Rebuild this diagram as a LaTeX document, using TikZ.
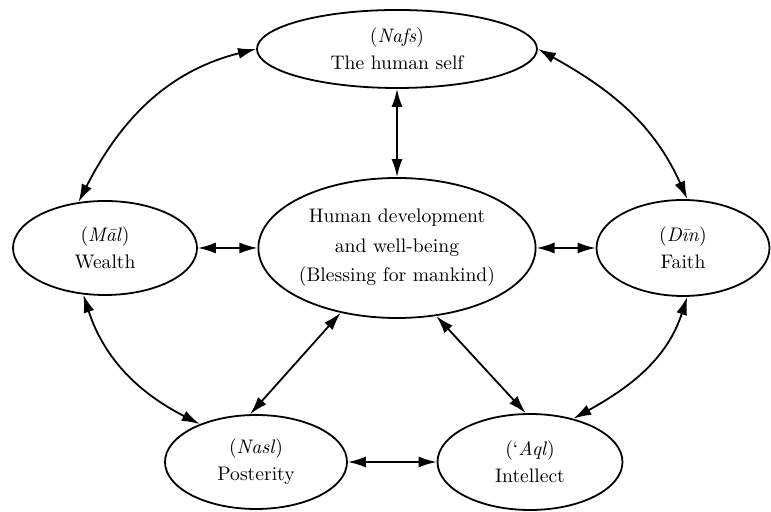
\documentclass[tikz,border=0pt]{standalone}
\usepackage{tikz}
\usetikzlibrary{arrows.meta,shapes.geometric}

\begin{document}
\begin{tikzpicture}[x=0.5pt, y=0.5pt, line width=0.9pt,
  every node/.style={font=\fontsize{9.8}{13.4}\selectfont, align=center},
  bubble/.style={ellipse, draw, inner sep=0pt},
  link/.style={{Latex[length=9pt,width=5.5pt]}-{Latex[length=9pt,width=5.5pt]}}]
\useasboundingbox (0,0) rectangle (771,512);
% the six ellipses
\node[bubble, minimum width=140pt, minimum height=39pt] (nafs) at (397,463) {(\textit{Nafs})\\The human self};
\node[bubble, minimum width=136pt, minimum height=70pt, font=\fontsize{9.8}{14.8}\selectfont] (hub) at (397,264)
  {Human development\\and well-being\\(Blessing for mankind)};
\node[bubble, minimum width=92pt, minimum height=47pt] (mal) at (105,264) {(\textit{M\=al})\\Wealth};
\node[bubble, minimum width=86.5pt, minimum height=48pt] (din) at (683,264) {(\textit{D\={\i}n})\\Faith};
\node[bubble, minimum width=91pt, minimum height=47pt] (nasl) at (256,50) {(\textit{Nasl})\\Posterity};
\node[bubble, minimum width=92.5pt, minimum height=48pt] (aql) at (530,50) {(`\textit{Aql})\\Intellect};
% straight links to the centre
\draw[link] (nafs.south) -- (hub.north);
\draw[link] (mal.east) -- (hub.west);
\draw[link] (hub.east) -- (din.west);
\draw[link] (hub.229) -- (nasl.97);
\draw[link] (hub.-60) -- (aql.95);
\draw[link] (nasl.east) -- (aql.west);
% curved links round the outside
\draw[link] (nafs.west) to[out=194, in=63] (mal.120);
\draw[link] (nafs.east) to[out=-29, in=114] (din.85);
\draw[link] (mal.-115) to[out=-72, in=153] (nasl.146);
\draw[link] (din.-85) to[out=-108, in=29] (aql.45);
\end{tikzpicture}
\end{document}
